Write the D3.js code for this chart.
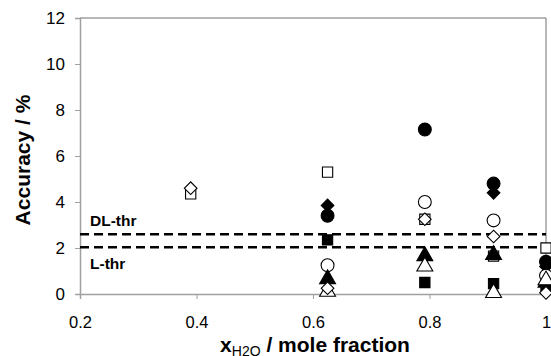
<!DOCTYPE html>
<html>
<head>
<meta charset="utf-8">
<script src="https://cdn.jsdelivr.net/npm/d3@7"></script>
<style>
  body { margin: 0; background: #fff; }
  svg { font-family: Arial, "Liberation Sans", sans-serif; }
</style>
</head>
<body>
<div id="chart"></div>
<script>
// x positions (mole fraction of water) and accuracy values (%) per marker series
const xValues = [0.39, 0.625, 0.792, 0.91, 1.0];

const openSquare     = [4.35, 5.3, 3.25, 1.65, 2.0];
const filledDiamond  = [null, 3.85, null, 4.4, 1.2];
const filledCircle   = [null, 3.4, 7.15, 4.8, 1.4];
const filledSquare   = [null, 2.35, 0.5, 0.45, 0.3];
const openCircle     = [null, 1.25, 4.0, 3.2, 0.8];
const filledTriangle = [null, 0.65, 1.65, 1.7, 0.5];
const openTriangle   = [null, 0.1, 1.2, 0.05, 0.6];
const openDiamond    = [4.6, 0.25, 3.25, 2.5, 0.05];

const thresholds = [
  { name: "DL-thr", value: 2.6 },
  { name: "L-thr", value: 2.03 }
];

const xTicks = [0.2, 0.4, 0.6, 0.8, 1];
const yTicks = [0, 2, 4, 6, 8, 10, 12];

// diamond = square turned by 45 degrees
const series = [
  { values: openSquare, shape: d3.symbolSquare, size: 105, rot: 0, filled: false },
  { values: filledDiamond, shape: d3.symbolSquare, size: 80, rot: 45, filled: true },
  { values: filledCircle, shape: d3.symbolCircle, size: 130, rot: 0, filled: true },
  { values: filledSquare, shape: d3.symbolSquare, size: 105, rot: 0, filled: true },
  { values: openCircle, shape: d3.symbolCircle, size: 130, rot: 0, filled: false },
  { values: filledTriangle, shape: d3.symbolTriangle, size: 110, rot: 0, filled: true },
  { values: openTriangle, shape: d3.symbolTriangle, size: 110, rot: 0, filled: false },
  { values: openDiamond, shape: d3.symbolSquare, size: 80, rot: 45, filled: false }
];

const width = 551, height = 356;
const margin = { left: 80, right: 5, top: 18, bottom: 62 };

const svg = d3.select("#chart").append("svg")
  .attr("width", width).attr("height", height);

const x = d3.scaleLinear().domain([0.2, 1]).range([margin.left, width - margin.right]);
const y = d3.scaleLinear().domain([0, 12]).range([height - margin.bottom, margin.top]);

// plot frame (top and right)
svg.append("path")
  .attr("d", `M${x(0.2)},${y(12)}H${x(1)}V${y(0)}`)
  .attr("fill", "none")
  .attr("stroke", "#707070")
  .attr("stroke-width", 1);

// y axis
const yAxis = svg.append("g")
  .attr("transform", `translate(${x(0.2)},0)`)
  .call(d3.axisLeft(y).tickValues(yTicks).tickSize(5).tickPadding(10).tickFormat(d3.format("d")));
// x axis
const xAxis = svg.append("g")
  .attr("transform", `translate(0,${y(0)})`)
  .call(d3.axisBottom(x).tickValues(xTicks).tickSize(5).tickPadding(17).tickFormat(d => d === 1 ? "1" : d3.format(".1f")(d)));

[yAxis, xAxis].forEach(g => {
  g.select(".domain").attr("stroke", "#a0a0a0").attr("stroke-width", 1.5);
  g.selectAll(".tick line").attr("stroke", "#a0a0a0");
  g.selectAll("text").attr("fill", "#000")
    .attr("font-family", "Arial, 'Liberation Sans', sans-serif");
});
yAxis.selectAll("text").attr("font-size", 17);
xAxis.selectAll("text").attr("font-size", 16.5);

// threshold lines
svg.selectAll(".thr").data(thresholds).enter().append("line")
  .attr("x1", x(0.2)).attr("x2", x(1))
  .attr("y1", d => y(d.value)).attr("y2", d => y(d.value))
  .attr("stroke", "#000")
  .attr("stroke-width", 2.5)
  .attr("stroke-dasharray", "9,5");

svg.append("text")
  .attr("x", x(0.2) + 10).attr("y", y(thresholds[0].value) - 8)
  .attr("font-size", 15.5).attr("font-weight", "bold")
  .text(thresholds[0].name);
svg.append("text")
  .attr("x", x(0.2) + 10).attr("y", y(thresholds[1].value) + 22)
  .attr("font-size", 15.5).attr("font-weight", "bold")
  .text(thresholds[1].name);

// markers
series.forEach(s => {
  const pts = xValues.map((xv, i) => ({ x: xv, v: s.values[i] })).filter(d => d.v != null);
  svg.append("g").selectAll("path").data(pts).enter().append("path")
    .attr("transform", d => `translate(${x(d.x)},${y(d.v)}) rotate(${s.rot})`)
    .attr("d", d3.symbol().type(s.shape).size(s.size))
    .attr("fill", s.filled ? "#000" : "#fff")
    .attr("stroke", "#000")
    .attr("stroke-width", 1.1);
});

// axis titles
svg.append("text")
  .attr("transform", `translate(30,${(y(0) + y(12)) / 2 + 4}) rotate(-90)`)
  .attr("text-anchor", "middle")
  .attr("font-size", 21).attr("font-weight", "bold")
  .text("Accuracy / %");

const xt = svg.append("text")
  .attr("x", 315).attr("y", 352)
  .attr("text-anchor", "middle")
  .attr("font-size", 21).attr("font-weight", "bold");
xt.append("tspan").text("x");
xt.append("tspan").attr("font-size", 14).attr("font-weight", "normal").attr("dy", 4).text("H2O");
xt.append("tspan").attr("dy", -4).text(" / mole fraction");
</script>
</body>
</html>
